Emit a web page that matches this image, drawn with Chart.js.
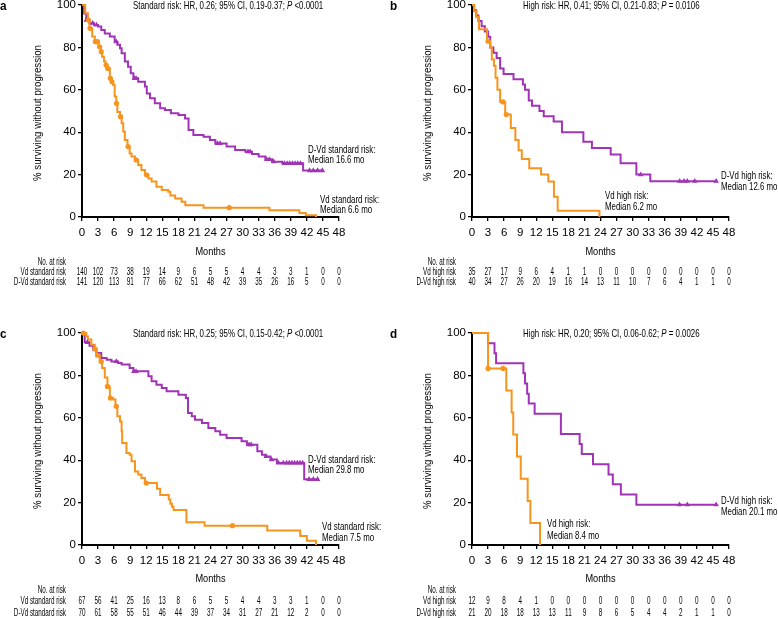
<!DOCTYPE html>
<html><head><meta charset="utf-8">
<script src="https://cdn.jsdelivr.net/npm/chart.js@4.4.1/dist/chart.umd.min.js"></script>
<style>
html,body{margin:0;padding:0;background:#fff;width:778px;height:618px;overflow:hidden;}
canvas{position:absolute;}
</style></head><body>
<canvas id="pa" width="389" height="300" style="left:0px;top:0px;width:389px;height:300px"></canvas>
<canvas id="pb" width="388" height="300" style="left:390px;top:0px;width:388px;height:300px"></canvas>
<canvas id="pc" width="389" height="290" style="left:0px;top:328px;width:389px;height:290px"></canvas>
<canvas id="pd" width="388" height="290" style="left:390px;top:328px;width:388px;height:290px"></canvas>
<script>
// ---------- tick labels ----------
const monthTicks = [0,3,6,9,12,15,18,21,24,27,30,33,36,39,42,45,48];
const survTicks = [0,20,40,60,80,100];

// ---------- panel a: standard risk ----------
const aVdTime = [0,0.6,1.1,1.4,1.9,2.4,3.1,3.5,3.75,4.1,4.4,4.75,5.2,5.5,5.8,6.1,6.4,6.6,7.1,7.4,7.7,8.0,8.5,8.9,9.25,9.9,10.5,11.1,11.75,12.4,13.0,13.9,14.9,16.1,16.5,17.4,18.6,19.3,22.7,35.0,40.6,41.8,43.7];
const aVdSurv = [100,96.1,92.9,89.0,85.1,82.7,80.3,78.0,75.6,73.3,71.7,70.1,65.4,63.8,62.3,56.8,53.6,49.5,47.3,44.2,40.3,36.3,33.2,30.0,28.5,26.9,24.5,22.2,19.8,18.2,16.7,14.3,12.7,11.9,10.2,8.7,7.2,5.5,4.4,3.2,1.9,0.8,0];
const aVdCensTime = [1.2,1.5,2.5,2.9,3.3,3.6,4.5,4.8,5.3,5.6,6.45,7.2,8.6,10.1,12.1,27.5];
const aVdCensSurv = [92.9,89.0,82.7,82.7,80.3,78.0,71.7,70.1,65.4,63.8,53.6,47.3,33.2,26.9,19.8,4.4];
const aDVdTime = [0,0.4,0.8,1.4,2.25,3.0,3.6,4.25,5.2,6.1,6.6,7.1,7.4,8.0,8.6,9.1,9.6,10.5,11.75,12.1,12.7,13.6,14.6,15.5,16.6,18.0,19.25,19.9,20.8,22.7,23.9,24.9,27.0,28.6,30.5,31.75,33.0,34.25,35.5,37.4,41.3,44.9];
const aDVdSurv = [100,96.0,92.9,91.4,90.6,89.8,88.2,86.6,85.1,82.7,81.2,79.6,77.2,73.3,70.9,67.8,65.4,63.8,61.5,58.3,56.0,53.6,51.3,50.5,48.9,48.1,46.5,41.0,38.7,37.9,36.3,34.7,33.2,31.6,30.8,29.7,28.5,27.2,26.1,25.3,21.9,21.9];
const aDVdCensTime = [0.8,2.0,2.7,6.4,9.8,10.1,25.3,25.8,31.0,31.4,34.5,35.0,35.8,37.8,38.3,38.8,39.3,39.8,40.3,40.8,42.5,43.2,44.0,44.9];
const aDVdCensSurv = [92.9,91.4,90.6,82.7,65.4,65.4,34.7,34.7,30.8,30.8,27.2,27.2,26.1,25.3,25.3,25.3,25.3,25.3,25.3,25.3,21.9,21.9,21.9,21.9];
const aRiskVd = [140,102,73,38,19,14,9,6,5,5,4,4,3,3,1,0,0];
const aRiskDVd = [141,120,113,91,77,66,62,51,48,42,39,35,26,16,5,0,0];

// ---------- panel b: high risk ----------
const bVdTime = [0,0.4,0.8,1.3,2.8,3.4,3.7,4.1,4.4,4.75,5.25,6.2,7.25,8.1,8.7,9.3,10.7,12.9,14.25,15.3,16.0,23.8];
const bVdSurv = [100,97.1,94.3,88.6,82.9,80.0,74.3,71.4,65.7,60.0,54.3,48.3,42.0,36.3,31.5,27.3,23.0,20.0,16.7,9.6,2.9,0];
const bVdCensTime = [3.0,5.8,6.4];
const bVdCensSurv = [82.9,54.3,48.3];
const bDVdTime = [0,0.4,0.8,1.2,1.8,2.4,3.0,3.4,4.0,4.6,5.25,5.9,7.75,9.5,9.9,10.6,11.2,12.6,13.4,15.25,16.8,20.8,22.4,25.9,27.75,30.7,33.3,45.6];
const bDVdSurv = [100,97.5,95.0,92.5,90.0,87.5,85.0,80.0,77.5,75.0,70.0,67.5,65.0,62.5,60.0,55.0,52.5,50.0,47.5,45.0,40.0,35.5,32.5,29.5,25.3,20.0,16.9,16.9];
const bDVdCensTime = [31.5,38.8,39.6,40.2,41.6,45.6];
const bDVdCensSurv = [20.0,16.9,16.9,16.9,16.9,16.9];
const bRiskVd = [35,27,17,9,6,4,1,1,0,0,0,0,0,0,0,0,0];
const bRiskDVd = [40,34,27,26,20,19,16,14,13,11,10,7,6,4,1,1,0];

// ---------- panel c: standard risk ----------
const cVdTime = [0,0.8,1.1,1.75,2.4,2.7,3.3,3.75,4.25,4.75,5.2,5.8,6.25,6.6,7.1,7.4,7.5,8.3,8.9,9.25,9.9,10.5,11.1,11.75,14.0,14.6,16.2,16.5,16.8,17.1,19.5,22.9,34.6,40.75,42.0,43.7];
const cVdSurv = [100,98.5,96.9,94.5,92.5,89.5,86.5,83.5,79.0,74.8,69.3,68.6,65.4,60.7,58.3,53.6,48.1,43.4,42.6,39.5,34.7,33.2,31.6,29.2,26.5,23.6,21.5,19.5,18.0,16.5,10.7,9.1,6.8,4.2,2.0,0];
const cVdCensTime = [0.25,2.4,2.9,3.6,4.75,5.3,6.4,12.0,28.1];
const cVdCensSurv = [100,92.5,89.5,86.5,74.8,69.3,65.4,29.2,9.1];
const cDVdTime = [0,0.5,1.4,2.1,2.7,3.6,4.6,5.5,6.75,7.4,8.9,9.6,12.4,13.0,13.9,14.9,15.8,18.0,19.4,19.8,20.5,21.1,22.4,23.6,24.9,25.8,27.0,29.8,30.8,32.75,33.6,34.25,35.2,36.4,41.5,44.0];
const cDVdSurv = [100,95.6,94.0,92.1,90.6,88.2,87.4,86.6,85.8,85.1,83.5,81.9,79.6,77.2,75.6,74.1,72.5,70.9,69.3,62.3,60.7,59.1,57.5,55.2,53.6,52.0,50.5,48.9,47.3,44.2,42.6,41.8,40.3,38.7,31.0,31.0];
const cDVdCensTime = [1.0,6.4,9.7,10.1,31.2,31.6,34.4,35.4,36.7,37.6,38.2,38.7,39.2,39.7,40.2,40.7,41.2,42.4,43.2,44.0];
const cDVdCensSurv = [95.6,86.6,81.9,81.9,47.3,47.3,41.8,40.3,38.7,38.7,38.7,38.7,38.7,38.7,38.7,38.7,38.7,31.0,31.0,31.0];
const cRiskVd = [67,56,41,25,16,13,8,6,5,5,4,4,3,3,1,0,0];
const cRiskDVd = [70,61,58,55,51,46,44,39,37,34,31,27,21,12,2,0,0];

// ---------- panel d: high risk ----------
const dVdTime = [0,3.0,6.4,7.4,7.7,8.4,9.1,10.4,10.9,12.7];
const dVdSurv = [100,83.3,72.9,62.5,52.1,41.7,31.3,20.8,10.4,0];
const dVdCensTime = [3.0,5.8];
const dVdCensSurv = [83.3,83.3];
const dDVdTime = [0,3.0,4.2,4.5,9.6,9.9,10.3,10.6,11.7,16.6,20.1,20.5,22.6,25.5,26.3,27.8,30.7,45.6];
const dDVdSurv = [100,95.2,90.5,85.7,81.0,76.2,71.4,66.7,61.9,52.4,47.6,42.9,38.1,33.3,28.6,23.8,19.0,19.0];
const dDVdCensTime = [38.75,40.2,45.6];
const dDVdCensSurv = [19.0,19.0,19.0];
const dRiskVd = [12,9,8,4,1,0,0,0,0,0,0,0,0,0,0,0,0];
const dRiskDVd = [21,20,18,18,13,13,11,9,8,6,5,4,4,2,1,1,0];

// ---------- styling ----------
const FONT = "'Liberation Sans',Arial,sans-serif";
const ORANGE = '#F7941E';
const PURPLE = '#A134B6';
Chart.defaults.font.family = FONT;
Chart.defaults.color = '#000';

function pts(t, s) { return t.map((v, i) => ({ x: v, y: s[i] })); }

// condensed text (the original uses a narrow typeface)
function ctext(ctx, str, x, y, align, sx) {
  ctx.save();
  ctx.translate(x, y);
  ctx.scale(sx, 1);
  ctx.textAlign = align;
  ctx.fillText(str, 0, 0);
  ctx.restore();
}

function makePanel(id, W, H, p) {
  const AREA_L = 82, AREA_R = 339, AREA_T = 5, AREA_B = 217;
  const decor = {
    id: 'decor',
    afterDraw(chart) {
      const ctx = chart.ctx, xs = chart.scales.x, ca = chart.chartArea;
      ctx.save();
      ctx.fillStyle = '#000';
      ctx.textBaseline = 'middle';
      // panel letter
      ctx.font = 'bold 13px ' + FONT;
      ctext(ctx, p.letter, 0, 6, 'left', 0.9);
      // title line with italic P
      const SX = 0.75;
      let x = 133;
      ctx.font = '10.5px ' + FONT;
      ctext(ctx, p.title[0], x, 6, 'left', SX); x += ctx.measureText(p.title[0]).width * SX;
      ctx.font = 'italic 10.5px ' + FONT;
      ctext(ctx, p.title[1], x, 6, 'left', SX); x += ctx.measureText(p.title[1]).width * SX;
      ctx.font = '10.5px ' + FONT;
      ctext(ctx, p.title[2], x, 6, 'left', SX);
      // y title
      ctx.save();
      ctx.translate(38, (ca.top + ca.bottom) / 2 + 2);
      ctx.rotate(-Math.PI / 2);
      ctx.font = '11.5px ' + FONT;
      ctext(ctx, '% surviving without progression', 0, 0, 'center', 0.84);
      ctx.restore();
      // x title
      ctx.font = '11.5px ' + FONT;
      ctext(ctx, 'Months', (ca.left + ca.right) / 2, p.monthsY, 'center', 0.8);
      // annotations
      ctx.font = '10.5px ' + FONT;
      p.notes.forEach(n => ctext(ctx, n[0], n[1], n[2], 'left', 0.75));
      // risk table
      ctx.font = '10px ' + FONT;
      const RS = 0.63;
      ctext(ctx, 'No. at risk', 66, p.rowY[0], 'right', RS);
      ctext(ctx, p.rowLabels[0], 66, p.rowY[1], 'right', RS);
      ctext(ctx, p.rowLabels[1], 66, p.rowY[2], 'right', RS);
      monthTicks.forEach((m, i) => {
        const px = xs.getPixelForValue(m);
        ctext(ctx, String(p.riskVd[i]), px, p.rowY[1], 'center', RS);
        ctext(ctx, String(p.riskDVd[i]), px, p.rowY[2], 'center', RS);
      });
      ctx.restore();
    }
  };
  return new Chart(document.getElementById(id), {
    type: 'line',
    data: {
      datasets: [
        { data: pts(p.vdCT, p.vdCS), showLine: false, pointStyle: 'circle', pointRadius: 2.6, pointBackgroundColor: ORANGE, pointBorderColor: ORANGE, pointBorderWidth: 0, clip: false },
        { data: pts(p.dvdCT, p.dvdCS), showLine: false, pointStyle: 'triangle', pointRadius: 3.2, pointBackgroundColor: PURPLE, pointBorderColor: PURPLE, pointBorderWidth: 0, clip: false },
        { data: pts(p.vdT, p.vdS), borderColor: ORANGE, borderWidth: 2, stepped: true, pointRadius: 0, fill: false, clip: false },
        { data: pts(p.dvdT, p.dvdS), borderColor: PURPLE, borderWidth: 2, stepped: true, pointRadius: 0, fill: false, clip: false }
      ]
    },
    options: {
      responsive: false, animation: false, devicePixelRatio: 1,
      layout: { padding: { left: 0, top: AREA_T, right: W - AREA_R, bottom: 0 } },
      plugins: { legend: { display: false }, tooltip: { enabled: false } },
      scales: {
        x: {
          type: 'linear', min: 0, max: 48,
          afterBuildTicks: s => { s.ticks = monthTicks.map(v => ({ value: v })); },
          afterFit: s => { s.height = H - AREA_B; s.paddingLeft = 0; s.paddingRight = 0; },
          ticks: { autoSkip: false, maxRotation: 0, color: '#000', font: { size: 11.5 }, padding: 5 },
          grid: { drawOnChartArea: false, color: '#000', tickLength: 4, lineWidth: 1.3 },
          border: { color: '#000', width: 2 }
        },
        y: {
          min: 0, max: 100,
          afterBuildTicks: s => { s.ticks = survTicks.map(v => ({ value: v })); },
          afterFit: s => { s.width = AREA_L; s.paddingTop = 0; s.paddingBottom = 0; },
          ticks: { color: '#000', font: { size: 11.5 }, padding: 2 },
          grid: { drawOnChartArea: false, color: '#000', tickLength: 4, lineWidth: 1.3 },
          border: { color: '#000', width: 2 }
        }
      }
    },
    plugins: [decor]
  });
}

makePanel('pa', 389, 300, {
  letter: 'a', title: ['Standard risk: HR, 0.26; 95% CI, 0.19-0.37; ', 'P', ' <0.0001'],
  vdT: aVdTime, vdS: aVdSurv, vdCT: aVdCensTime, vdCS: aVdCensSurv,
  dvdT: aDVdTime, dvdS: aDVdSurv, dvdCT: aDVdCensTime, dvdCS: aDVdCensSurv,
  riskVd: aRiskVd, riskDVd: aRiskDVd, rowLabels: ['Vd standard risk', 'D-Vd standard risk'],
  monthsY: 252, rowY: [262, 272, 282],
  notes: [['D-Vd standard risk:', 308, 150], ['Median 16.6 mo', 308, 160], ['Vd standard risk:', 320, 200], ['Median 6.6 mo', 320, 210]]
});
makePanel('pb', 388, 300, {
  letter: 'b', title: ['High risk: HR, 0.41; 95% CI, 0.21-0.83; ', 'P', ' = 0.0106'],
  vdT: bVdTime, vdS: bVdSurv, vdCT: bVdCensTime, vdCS: bVdCensSurv,
  dvdT: bDVdTime, dvdS: bDVdSurv, dvdCT: bDVdCensTime, dvdCS: bDVdCensSurv,
  riskVd: bRiskVd, riskDVd: bRiskDVd, rowLabels: ['Vd high risk', 'D-Vd high risk'],
  monthsY: 252, rowY: [262, 272, 282],
  notes: [['D-Vd high risk:', 331, 176], ['Median 12.6 mo', 331, 187], ['Vd high risk:', 215, 196], ['Median 6.2 mo', 215, 207]]
});
makePanel('pc', 389, 290, {
  letter: 'c', title: ['Standard risk: HR, 0.25; 95% CI, 0.15-0.42; ', 'P', ' <0.0001'],
  vdT: cVdTime, vdS: cVdSurv, vdCT: cVdCensTime, vdCS: cVdCensSurv,
  dvdT: cDVdTime, dvdS: cDVdSurv, dvdCT: cDVdCensTime, dvdCS: cDVdCensSurv,
  riskVd: cRiskVd, riskDVd: cRiskDVd, rowLabels: ['Vd standard risk', 'D-Vd standard risk'],
  monthsY: 251, rowY: [262, 273, 285],
  notes: [['D-Vd standard risk:', 308, 132], ['Median 29.8 mo', 308, 142], ['Vd standard risk:', 322, 199], ['Median 7.5 mo', 322, 210]]
});
makePanel('pd', 388, 290, {
  letter: 'd', title: ['High risk: HR, 0.20; 95% CI, 0.06-0.62; ', 'P', ' = 0.0026'],
  vdT: dVdTime, vdS: dVdSurv, vdCT: dVdCensTime, vdCS: dVdCensSurv,
  dvdT: dDVdTime, dvdS: dDVdSurv, dvdCT: dDVdCensTime, dvdCS: dDVdCensSurv,
  riskVd: dRiskVd, riskDVd: dRiskDVd, rowLabels: ['Vd high risk', 'D-Vd high risk'],
  monthsY: 251, rowY: [262, 273, 285],
  notes: [['D-Vd high risk:', 331, 173], ['Median 20.1 mo', 331, 184], ['Vd high risk:', 157, 196], ['Median 8.4 mo', 157, 208]]
});
</script>
</body></html>
